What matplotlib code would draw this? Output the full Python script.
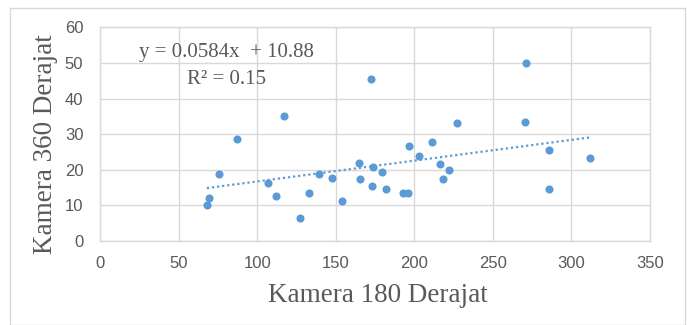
import matplotlib
matplotlib.use("Agg")
import matplotlib.pyplot as plt
import numpy as np
from matplotlib.patches import Rectangle

# Data
x_vals = [68, 69.5, 76, 87, 117.3, 107.1, 112.2, 127.5, 132.8, 139.4, 147.6, 153.8,
          164.6, 165.5, 172.7, 173.5, 172.9, 179.5, 182.2,
          192.6, 195.8, 196.4, 203, 211.1, 216.4, 218.5, 222.3, 227.4,
          270.9, 270.2, 285.9, 285.9, 311.6]
y_vals = [10, 12, 18.8, 28.5, 35.1, 16.2, 12.6, 6.4, 13.6, 18.7, 17.8, 11.3,
          22.0, 17.4, 45.5, 20.7, 15.5, 19.5, 14.5,
          13.6, 13.6, 26.6, 24.0, 27.9, 21.7, 17.4, 20.0, 33.0,
          50.0, 33.4, 25.5, 14.5, 23.4]
trend_slope = 0.0584
trend_intercept = 10.88
r_squared = 0.15
x_ticks = [0, 50, 100, 150, 200, 250, 300, 350]
y_ticks = [0, 10, 20, 30, 40, 50, 60]

W, H = 687, 325
fig = plt.figure(figsize=(W / 100, H / 100), dpi=100)
fig.patch.set_facecolor("white")
fig.patches.append(Rectangle((10 / W, 0), (W - 12) / W, 1 - 8 / H, transform=fig.transFigure,
                             fill=False, edgecolor="#D9D9D9", linewidth=1))

ax = fig.add_axes([100 / W, 1 - 241 / H, 550 / W, 213.7 / H])
ax.scatter(x_vals, y_vals, s=34, color="#5B9BD5", zorder=3, linewidths=0)

xs = np.array([min(x_vals), max(x_vals)])
ax.plot(xs, trend_slope * xs + trend_intercept, linestyle=(0, (1, 1.3)), color="#5B9BD5",
        linewidth=1.6, zorder=2)

ax.set_xlim(0, 350)
ax.set_ylim(0, 60)
ax.set_xticks(x_ticks)
ax.set_yticks(y_ticks)
ax.grid(True, color="#D9D9D9", linewidth=1)
ax.set_axisbelow(True)
for sp in ax.spines.values():
    sp.set_color("#D9D9D9")
    sp.set_linewidth(1)
ax.tick_params(length=0, colors="#595959", labelsize=12)
ax.tick_params(axis="x", pad=11)
ax.tick_params(axis="y", pad=12)
for lab in ax.get_xticklabels() + ax.get_yticklabels():
    lab.set_family(["Liberation Sans Narrow", "Liberation Sans", "DejaVu Sans"])

fig.text(378 / W, 1 - 295 / H, "Kamera 180 Derajat", family="Liberation Serif", fontsize=19.5,
         color="#595959", ha="center", va="center")
fig.text(46 / W, 1 - 144 / H, "Kamera 360 Derajat", family="Liberation Serif", fontsize=19.5,
         color="#595959", ha="center", va="center", rotation=90)

fig.text(226 / W, 1 - 53 / H, f"y = {trend_slope}x  + {trend_intercept}",
         ha="center", va="center", family="Liberation Serif", fontsize=15, color="#595959")
fig.text(226 / W, 1 - 79 / H, f"R² = {r_squared}",
         ha="center", va="center", family="Liberation Serif", fontsize=15, color="#595959")

fig.savefig("out.png", dpi=100)
